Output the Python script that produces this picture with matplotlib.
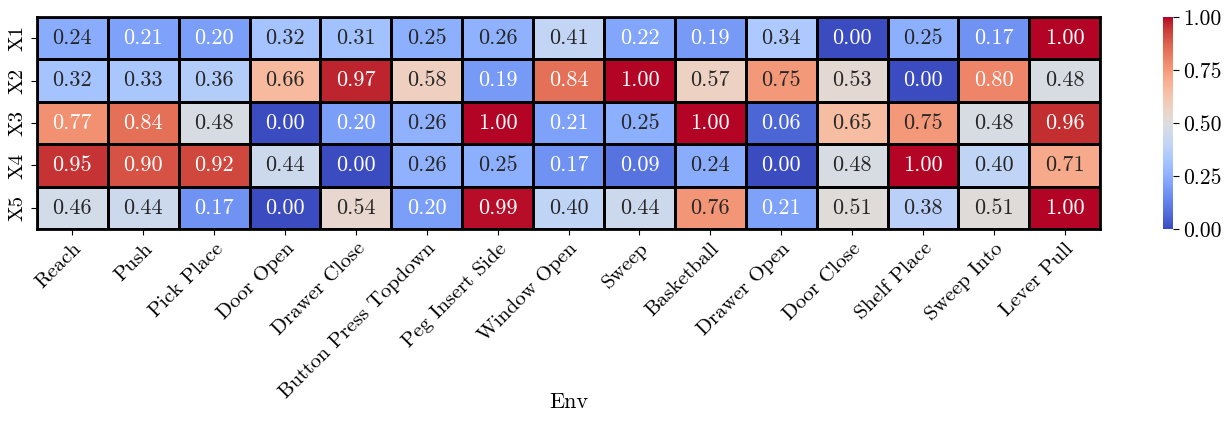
import matplotlib
matplotlib.use("Agg")
import matplotlib.pyplot as plt
import numpy as np
import seaborn as sns

envs = ["Reach", "Push", "Pick Place", "Door Open", "Drawer Close",
        "Button Press Topdown", "Peg Insert Side", "Window Open", "Sweep",
        "Basketball", "Drawer Open", "Door Close", "Shelf Place",
        "Sweep Into", "Lever Pull"]
rows = ["X1", "X2", "X3", "X4", "X5"]

x1 = [0.24, 0.21, 0.20, 0.32, 0.31, 0.25, 0.26, 0.41, 0.22, 0.19, 0.34, 0.00, 0.25, 0.17, 1.00]
x2 = [0.32, 0.33, 0.36, 0.66, 0.97, 0.58, 0.19, 0.84, 1.00, 0.57, 0.75, 0.53, 0.00, 0.80, 0.48]
x3 = [0.77, 0.84, 0.48, 0.00, 0.20, 0.26, 1.00, 0.21, 0.25, 1.00, 0.06, 0.65, 0.75, 0.48, 0.96]
x4 = [0.95, 0.90, 0.92, 0.44, 0.00, 0.26, 0.25, 0.17, 0.09, 0.24, 0.00, 0.48, 1.00, 0.40, 0.71]
x5 = [0.46, 0.44, 0.17, 0.00, 0.54, 0.20, 0.99, 0.40, 0.44, 0.76, 0.21, 0.51, 0.38, 0.51, 1.00]

plt.rcParams["font.family"] = "serif"
plt.rcParams["font.serif"] = ["cmr10", "DejaVu Serif"]
plt.rcParams["mathtext.fontset"] = "cm"
plt.rcParams["axes.formatter.use_mathtext"] = True

data = np.array([x1, x2, x3, x4, x5])

fig = plt.figure(figsize=(12.32, 4.22), dpi=100)
ax = fig.add_axes([0.030, 0.457, 0.863, 0.503])
cax = fig.add_axes([0.944, 0.457, 0.008, 0.503])

sns.heatmap(data, ax=ax, cbar_ax=cax, cmap="coolwarm", vmin=0, vmax=1,
            annot=True, fmt=".2f", annot_kws={"fontsize": 16},
            linewidths=1, linecolor="black",
            xticklabels=envs, yticklabels=rows)

for s in ax.spines.values():
    s.set_visible(True)
    s.set_linewidth(2)
    s.set_color("black")

ax.set_xticklabels(envs, rotation=45, ha="right", rotation_mode="anchor", fontsize=15)
ax.set_yticklabels(rows, rotation=90, va="center", fontsize=15)
ax.tick_params(axis="both", length=4)
ax.set_xlabel("Env", fontsize=16, va="center")
ax.xaxis.set_label_coords(0.5, -0.815)

cax.set_yticks([0, 0.25, 0.5, 0.75, 1.0])
cax.set_yticklabels(["0.00", "0.25", "0.50", "0.75", "1.00"])
cax.tick_params(labelsize=15.5, length=4)

fig.savefig("out.png", dpi=100)
